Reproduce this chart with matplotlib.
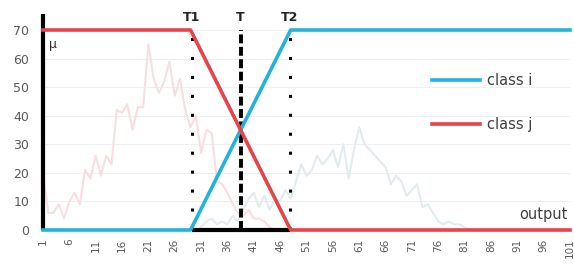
import matplotlib
matplotlib.use("Agg")
import matplotlib.pyplot as plt
import numpy as np

# ---- data ----
categories = list(range(1, 102))
tick_labels = [str(c) for c in range(1, 102, 5)]

# membership functions (breakpoints on the category axis)
class_i_x = [1, 29, 48, 101]
class_i_y = [0, 0, 70, 70]
class_j_x = [1, 29, 48, 101]
class_j_y = [70, 70, 0, 0]

# faint histograms
hist_j_x = list(range(1, 46))
hist_j_y = [20, 6, 6, 9, 4, 10, 13, 9, 21, 18, 26, 19, 26, 23, 42, 41, 44, 35, 43, 43,
            65, 53, 48, 52, 59, 47, 53, 42, 36, 40, 27, 35, 34, 17, 16, 13, 9, 6, 5, 7,
            4, 4, 3, 1, 0]
hist_i_x = list(range(31, 83))
hist_i_y = [1, 3, 4, 2, 3, 2, 5, 3, 7, 11, 13, 8, 12, 7, 11, 10, 14, 11, 17, 23,
            19, 21, 26, 23, 25, 28, 22, 30, 18, 28, 36, 30, 28, 26, 24, 22, 16, 19, 17, 12,
            14, 16, 8, 9, 6, 3, 2, 3, 2, 2, 1, 0]

T1, T, T2 = 29.2, 38.5, 47.8
yticks = [0, 10, 20, 30, 40, 50, 60, 70]

BLUE = "#22B4D8"
RED = "#E8434A"
PINK = "#F8DEE1"
GREYBLUE = "#E2EBEE"
TXT = "#595959"

fig = plt.figure(figsize=(5.74, 2.68), dpi=100)
ax = fig.add_axes([43 / 574, 1 - 230 / 268, 527 / 574, 200 / 268])

ax.set_xlim(1, 101)
ax.set_ylim(0, 70)
for s in ax.spines.values():
    s.set_visible(False)

ax.set_yticks(yticks)
ax.set_yticklabels([str(v) for v in yticks], fontsize=9, color=TXT)
ax.set_xticks(list(range(1, 102, 5)))
ax.set_xticklabels(tick_labels, rotation=90, fontsize=7.5, color=TXT)
ax.tick_params(axis="both", length=0)
ax.tick_params(axis="y", pad=10)
ax.tick_params(axis="x", pad=6)
ax.grid(axis="y", color="#EFEFEF", linewidth=0.8)
ax.set_axisbelow(True)

ax.plot(hist_j_x, hist_j_y, color=PINK, linewidth=1.5, zorder=2)
ax.plot(hist_i_x, hist_i_y, color=GREYBLUE, linewidth=1.5, zorder=2)

# threshold lines
ax.plot([T1, T1], [0, 68], color="black", linewidth=2.2,
        linestyle=(0, (1, 5.2)), dash_capstyle="butt", zorder=3)
ax.plot([T2, T2], [0, 68], color="black", linewidth=2.2,
        linestyle=(0, (1, 5.2)), dash_capstyle="butt", zorder=3)
ax.plot([T, T], [0, 70.5], color="black", linewidth=2.8,
        linestyle=(0, (2.3, 0.9)), zorder=3)
ax.plot([T1, T2], [0, 0], color="black", linewidth=3.0, zorder=4,
        clip_on=False, solid_capstyle="butt")

# mu axis
ax.plot([1, 1], [0, 75.6], color="black", linewidth=3.0, clip_on=False,
        zorder=5, solid_capstyle="butt")

l_i, = ax.plot(class_i_x, class_i_y, color=BLUE, linewidth=2.6, clip_on=False,
               zorder=6, label="class i")
l_j, = ax.plot(class_j_x, class_j_y, color=RED, linewidth=2.6, clip_on=False,
               zorder=6, label="class j")

for xv, lab in [(T1, "T1"), (T, "T"), (T2, "T2")]:
    ax.text(xv, 74.5, lab, ha="center", va="center", fontsize=9,
            fontweight="bold", color="#222222", clip_on=False)

ax.text(2.2, 65, "μ", ha="left", va="center", fontsize=9, color="#333333")
ax.text(100.5, 5.3, "output", ha="right", va="center", fontsize=10.5, color="#404040")

leg = ax.legend(handles=[l_i, l_j], loc="upper left",
                bbox_to_anchor=((432 - 43) / 527, (230 - 73) / 200),
                frameon=False, fontsize=10.5, handlelength=3.3,
                handletextpad=0.5, labelspacing=2.0, borderpad=0, borderaxespad=0)
for t in leg.get_texts():
    t.set_color("#404040")

fig.savefig("out.png", dpi=100)
